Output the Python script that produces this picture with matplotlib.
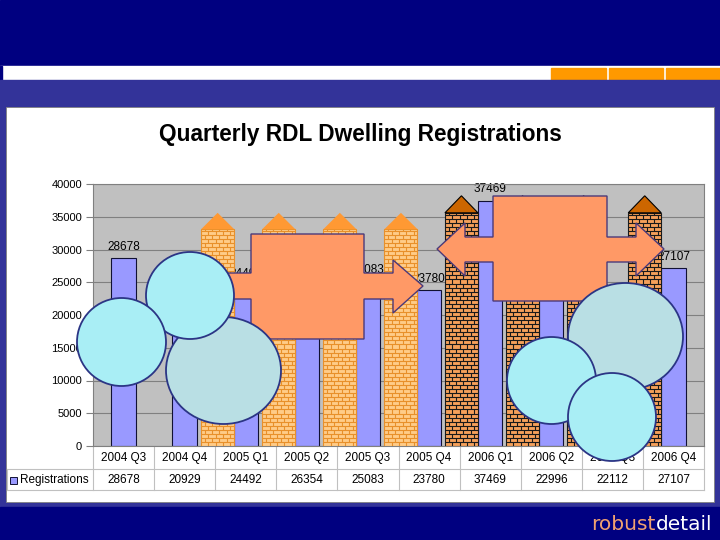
import numpy as np
import matplotlib
matplotlib.use("Agg")
import matplotlib.pyplot as plt
from matplotlib.patches import Rectangle, Polygon, Ellipse
from matplotlib.collections import LineCollection
from matplotlib.transforms import blended_transform_factory

# data
quarters = ["2004 Q3", "2004 Q4", "2005 Q1", "2005 Q2", "2005 Q3",
            "2005 Q4", "2006 Q1", "2006 Q2", "2006 Q3", "2006 Q4"]
registrations = [28678, 20929, 24492, 26354, 25083, 23780, 37469, 22996, 22112, 27107]
series_name = "Registrations"
chart_title = "Quarterly RDL Dwelling Registrations"
y_ticks = [0, 5000, 10000, 15000, 20000, 25000, 30000, 35000, 40000]

plt.rcParams['font.family'] = ['Liberation Sans', 'DejaVu Sans']

NAVY = '#000080'
VIOLET = '#333399'
BAR = '#9999FF'


def brick_column(ax, xc, w, top, tip, face, mortar, cap, cap_edge):
    # brick chimney drawn in data units of the chart
    ax.add_patch(Rectangle((xc - w / 2, 0), w, top, facecolor=face,
                           edgecolor=mortar, linewidth=0.8, zorder=3))
    row_h = 620
    bw = w / 4.5
    segs = []
    y = row_h
    while y < top:
        segs.append([(xc - w / 2, y), (xc + w / 2, y)])
        y += row_h
    r = 0
    y0 = 0
    while y0 < top:
        y1 = min(y0 + row_h, top)
        off = 0 if r % 2 == 0 else bw / 2
        k = 1 if r % 2 == 0 else 0
        while True:
            xj = xc - w / 2 + off + k * bw
            if xj >= xc + w / 2 - 1e-6:
                break
            if xj > xc - w / 2 + 1e-6:
                segs.append([(xj, y0), (xj, y1)])
            k += 1
        y0 += row_h
        r += 1
    ax.add_collection(LineCollection(segs, colors=mortar, linewidths=0.8, zorder=3.1))
    ax.add_patch(Polygon([(xc - w / 2, top), (xc, tip), (xc + w / 2, top)], closed=True,
                         facecolor=cap, edgecolor=cap_edge, linewidth=0.8 if cap_edge != 'none' else 0,
                         zorder=3.2))


fig = plt.figure(figsize=(7.2, 5.4), dpi=100)

# slide background, pixel coordinates
bg = fig.add_axes([0, 0, 1, 1])
bg.set_xlim(0, 720)
bg.set_ylim(540, 0)
bg.axis('off')
bg.add_patch(Rectangle((0, 0), 720, 66, color=NAVY))
bg.add_patch(Rectangle((0, 66), 720, 14, color='white'))
bg.add_patch(Rectangle((0, 66), 1.5, 14, color=NAVY))
for x0, x1 in [(551, 606), (609, 663), (666, 720)]:
    bg.add_patch(Rectangle((x0, 68), x1 - x0, 12, color='#FF9900'))
bg.add_patch(Rectangle((0, 80), 720, 427, color=VIOLET))
bg.add_patch(Rectangle((5.5, 107), 708.5, 395, facecolor='white', edgecolor='#808080', linewidth=0.6))
bg.add_patch(Rectangle((0, 507), 720, 33, color=NAVY))

bg.text(360, 134.5, chart_title, ha='center', va='center', fontsize=16.3, fontweight='bold')

# chart
ax = fig.add_axes([93 / 720, 94 / 540, 611 / 720, 262 / 540])
ax.set_facecolor('#C0C0C0')
x = np.arange(len(quarters))
ax.bar(x, registrations, width=0.4, color=BAR, edgecolor='#111133', linewidth=0.8, zorder=2)
for xi, v in zip(x, registrations):
    ax.annotate(str(v), (xi, v), xytext=(0, 4), textcoords='offset points',
                ha='center', va='bottom', fontsize=8.5, zorder=2.5, annotation_clip=False)
ax.set_xlim(-0.5, len(quarters) - 0.5)
ax.set_ylim(0, 40000)
ax.set_yticks(y_ticks)
ax.set_yticklabels([str(t) for t in y_ticks])
ax.set_xticks([])
ax.yaxis.grid(True, color='#808080', linewidth=0.8)
ax.set_axisbelow(True)
for s in ax.spines.values():
    s.set_color('#808080')
    s.set_linewidth(0.8)
ax.tick_params(axis='y', labelsize=8, length=5, color='#808080', pad=3)

# brick chimneys sitting between the quarters
for b in [1.5, 2.5, 3.5, 4.5]:
    brick_column(ax, b + 0.04, 0.54, 33100, 35600, '#FFCC88', '#E8902A', '#FF9933', 'none')
for b in [5.5, 6.5, 7.5, 8.5]:
    brick_column(ax, b + 0.03, 0.54, 35600, 38200, '#F5A05A', '#1A1A1A', '#CC6600', '#000000')

# data table under the chart
tr = blended_transform_factory(ax.transData, bg.transData)
tcol = '#C0C0C0'
edges = np.arange(len(quarters) + 1) - 0.5
for e in edges:
    bg.plot([e, e], [446, 490], color=tcol, lw=0.8, transform=tr)
bg.plot([7, 704], [469, 469], color=tcol, lw=0.8)
bg.plot([7, 704], [490, 490], color=tcol, lw=0.8)
bg.plot([7, 7], [469, 490], color=tcol, lw=0.8)
for xi, q, v in zip(x, quarters, registrations):
    bg.text(xi, 457.5, q, ha='center', va='center', fontsize=8.5, transform=tr)
    bg.text(xi, 480, str(v), ha='center', va='center', fontsize=8.5, transform=tr)
bg.add_patch(Rectangle((10, 477), 6.5, 6.5, facecolor=BAR, edgecolor='#111133', linewidth=0.7))
bg.text(20, 480.5, series_name, ha='left', va='center', fontsize=8.5)

# shapes pasted over the chart
ov = fig.add_axes([0, 0, 1, 1])
ov.set_xlim(0, 720)
ov.set_ylim(540, 0)
ov.axis('off')
ov.patch.set_alpha(0)
ov.set_zorder(5)

arrow_face = '#FF9966'
arrow_edge = '#4B3A7A'
right_arrow = [(200, 273), (251, 273), (251, 234), (364, 234), (364, 273), (393, 273),
               (393, 260), (423, 286), (393, 313), (393, 299), (364, 299), (364, 339),
               (251, 339), (251, 299), (200, 299)]
both_arrow = [(437, 249), (465, 223), (465, 237), (493, 237), (493, 196), (607, 196),
              (607, 237), (636, 237), (636, 223), (664, 249), (636, 276), (636, 262),
              (607, 262), (607, 301), (493, 301), (493, 262), (465, 262), (465, 276)]
for pts in [right_arrow, both_arrow]:
    ov.add_patch(Polygon(pts, closed=True, facecolor=arrow_face, edgecolor=arrow_edge, linewidth=1.0))

cyan = '#A9EEF5'
grey_blue = '#B9DFE4'
circle_edge = '#2B3585'
circles = [
    ((223.5, 370.5), 115, 107, grey_blue),
    ((190, 295.5), 88, 87, cyan),
    ((121.5, 342), 89, 88, cyan),
    ((625.5, 336.5), 115, 107, grey_blue),
    ((551.5, 380.5), 89, 87, cyan),
    ((612, 417), 88, 88, cyan),
]
for c, w, h, col in circles:
    ov.add_patch(Ellipse(c, w, h, facecolor=col, edgecolor=circle_edge, linewidth=1.3))

# footer logo: "detail" flush right, "robust" right before it
t2 = ov.text(712, 530, "detail", ha='right', va='baseline', fontsize=14.5,
             color='white', family='DejaVu Sans')
renderer = fig.canvas.get_renderer()
w_detail = t2.get_window_extent(renderer).width
ov.text(712 - w_detail, 530, "robust", ha='right', va='baseline', fontsize=14.5,
        color='#F0A070', family='DejaVu Sans')

fig.savefig("out.png", dpi=100)
